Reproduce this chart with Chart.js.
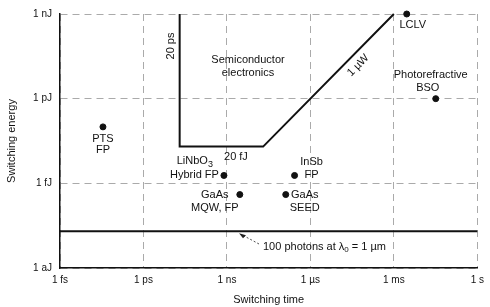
<!DOCTYPE html>
<html>
<head>
<meta charset="utf-8">
<script src="https://cdn.jsdelivr.net/npm/chart.js@4.4.1/dist/chart.umd.min.js"></script>
<style>
  html, body { margin: 0; padding: 0; background: #fff; }
  #wrap { width: 490px; height: 307px; }
</style>
</head>
<body>
<div id="wrap"><canvas id="chart" width="490" height="307"></canvas></div>
<script>
// tick marks on both log axes
const timeTicks = [1e-15, 1e-12, 1e-9, 1e-6, 1e-3, 1];
const timeTickLabels = ['1 fs', '1 ps', '1 ns', '1 µs', '1 ms', '1 s'];
const energyTicks = [1e-18, 1e-15, 1e-12, 1e-9];
const energyTickLabels = ['1 aJ', '1 fJ', '1 pJ', '1 nJ'];

// devices (switching time in s, energy in J)
const deviceNames = ['PTS FP', 'LiNbO3 Hybrid FP', 'GaAs MQW, FP', 'InSb FP', 'GaAs SEED', 'LCLV', 'Photorefractive BSO'];
const deviceTimes = [3.5e-14, 7.8e-10, 2.9e-9, 2.7e-7, 1.3e-7, 2.9e-3, 3.2e-2];
const deviceEnergies = [1e-13, 1.9e-15, 4e-16, 1.9e-15, 4e-16, 1e-9, 1e-12];

// semiconductor electronics boundary: 20 ps, 20 fJ, 1 µW
const boundaryTimes = [2e-11, 2e-11, 2e-8, 1e-3];
const boundaryEnergies = [1e-9, 2e-14, 2e-14, 1e-9];

// 100 photons at 1 µm
const photonTimes = [1e-15, 1];
const photonEnergies = [2e-17, 2e-17];

const toPoints = (xs, ys) => xs.map((x, i) => ({ x: x, y: ys[i] }));

const FONT = '"Liberation Sans", Arial, sans-serif';

// annotations drawn on top, placed through the scales
const annotations = {
  id: 'annotations',
  afterDatasetsDraw(chart) {
    const { ctx, scales: { x, y } } = chart;
    const px = v => x.getPixelForValue(v);
    const py = v => y.getPixelForValue(v);
    ctx.save();
    ctx.fillStyle = '#111';
    ctx.font = '11px ' + FONT;
    ctx.textBaseline = 'middle';

    const text = (s, tx, ty, align) => {
      ctx.textAlign = align || 'center';
      ctx.fillText(s, tx, ty);
    };

    // device labels
    const dx = deviceTimes.map(px);
    const dy = deviceEnergies.map(py);
    text('PTS', dx[0], dy[0] + 12);
    text('FP', dx[0], dy[0] + 23);

    // LiNbO3 with subscript
    ctx.textAlign = 'right';
    ctx.font = '9px ' + FONT;
    ctx.fillText('3', dx[1] - 11, dy[1] - 11);
    const w3 = ctx.measureText('3').width;
    ctx.font = '11px ' + FONT;
    ctx.fillText('LiNbO', dx[1] - 11 - w3, dy[1] - 14);
    text('Hybrid FP', dx[1] - 5, dy[1], 'right');

    text('GaAs', dx[2] - 25, dy[2]);
    text('MQW, FP', dx[2] - 25, dy[2] + 13);

    text('InSb', dx[3] + 17, dy[3] - 13);
    text('FP', dx[3] + 17, dy[3]);

    text('GaAs', dx[4] + 19, dy[4]);
    text('SEED', dx[4] + 19, dy[4] + 13);

    text('LCLV', dx[5] + 6, dy[5] + 11);

    text('Photorefractive', dx[6] - 5, dy[6] - 24);
    text('BSO', dx[6] - 8, dy[6] - 11);

    // region labels
    text('Semiconductor', 248, 60);
    text('electronics', 248, 73);
    text('20 fJ', px(1e-9) + 9, py(2e-14) + 10);

    ctx.save();
    ctx.translate(px(2e-11) - 9, 46);
    ctx.rotate(-Math.PI / 2);
    text('20 ps', 0, 0);
    ctx.restore();

    const ax = px(1e-6), ay = py(1e-12), bx = px(1e-3), by = py(1e-9);
    const ang = Math.atan2(by - ay, bx - ax);
    ctx.save();
    ctx.translate((ax + bx) / 2 + 6, (ay + by) / 2 + 9);
    ctx.rotate(ang);
    text('1 µW', 0, 0);
    ctx.restore();

    // photon limit note with dashed arrow
    const lineY = py(photonEnergies[0]);
    ctx.textAlign = 'left';
    ctx.fillText('100 photons at λ', 263, 247);
    let tw = ctx.measureText('100 photons at λ').width;
    ctx.font = '8px ' + FONT;
    ctx.fillText('0', 263 + tw, 250);
    const w0 = ctx.measureText('0').width;
    ctx.font = '11px ' + FONT;
    ctx.fillText(' = 1 µm', 263 + tw + w0, 247);

    ctx.strokeStyle = '#222';
    ctx.lineWidth = 0.8;
    ctx.setLineDash([2, 2]);
    ctx.beginPath();
    ctx.moveTo(259, 244);
    ctx.lineTo(241, lineY + 3);
    ctx.stroke();
    ctx.setLineDash([]);
    ctx.beginPath();
    ctx.moveTo(239, lineY + 2);
    ctx.lineTo(246, lineY + 4);
    ctx.lineTo(243, lineY + 7);
    ctx.closePath();
    ctx.fillStyle = '#222';
    ctx.fill();
    ctx.restore();
  }
};

new Chart(document.getElementById('chart'), {
  type: 'scatter',
  data: {
    datasets: [{
      label: 'Semiconductor electronics',
      data: toPoints(boundaryTimes, boundaryEnergies),
      showLine: true,
      borderColor: '#111',
      borderWidth: 2,
      pointRadius: 0,
      clip: false
    }, {
      label: '100 photons',
      data: toPoints(photonTimes, photonEnergies),
      showLine: true,
      borderColor: '#111',
      borderWidth: 2,
      pointRadius: 0,
      clip: false
    }, {
      label: 'Devices',
      data: toPoints(deviceTimes, deviceEnergies),
      backgroundColor: '#111',
      borderColor: '#111',
      pointRadius: 3,
      clip: false
    }]
  },
  options: {
    responsive: false,
    animation: false,
    layout: { padding: { top: 8, right: 10, left: 0, bottom: 0 } },
    plugins: { legend: { display: false }, tooltip: { enabled: false } },
    scales: {
      x: {
        type: 'logarithmic',
        min: 1e-15,
        max: 1,
        afterBuildTicks: scale => { scale.ticks = timeTicks.map(v => ({ value: v })); },
        afterFit: scale => { scale.height = 39; },
        ticks: {
          autoSkip: false,
          maxRotation: 0,
          padding: 6,
          color: '#111',
          font: { family: FONT, size: 10 },
          callback: (v, i) => timeTickLabels[i]
        },
        grid: { color: '#aaa', lineWidth: 1, drawTicks: false },
        border: { color: '#111', width: 1.5, dash: [7, 5] },
        title: {
          display: true,
          text: 'Switching time',
          color: '#111',
          font: { family: FONT, size: 11 },
          padding: 0
        }
      },
      y: {
        type: 'logarithmic',
        min: 1e-18,
        max: 1e-9,
        afterBuildTicks: scale => { scale.ticks = energyTicks.map(v => ({ value: v })); },
        afterFit: scale => { scale.width = 60; },
        ticks: {
          autoSkip: false,
          padding: 8,
          color: '#111',
          font: { family: FONT, size: 10 },
          callback: (v, i) => energyTickLabels[i]
        },
        grid: { color: '#aaa', lineWidth: 1, drawTicks: false },
        border: { color: '#111', width: 1.5, dash: [7, 5] },
        title: {
          display: true,
          text: 'Switching energy',
          color: '#111',
          font: { family: FONT, size: 11 },
          padding: { top: 5, bottom: 0 }
        }
      }
    }
  },
  plugins: [annotations]
});
</script>
</body>
</html>
